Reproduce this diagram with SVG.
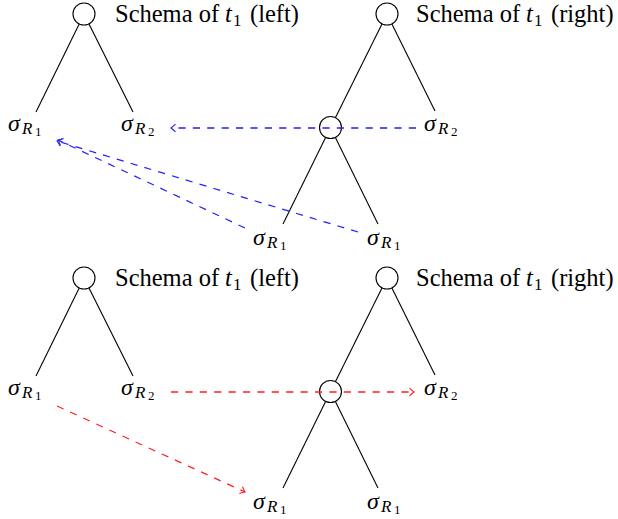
<svg xmlns="http://www.w3.org/2000/svg" width="618" height="519" viewBox="0 0 618 519">
<style>
text { font-family: "Liberation Serif", "Times New Roman", serif; fill: #000; }
.title { font-size: 24.5px; }
.it { font-style: italic; }
.lab { font-size: 24px; }
.s1 { font-size: 17px; }
.s2 { font-size: 13px; }
.node { fill: none; stroke: #000; stroke-width: 1.1; }
.edge { stroke: #000; stroke-width: 1.1; fill: none; }
.blue { stroke: #1f1fff; stroke-width: 1.2; fill: none; stroke-dasharray: 7.2 7.2; }
.red { stroke: #ff1f1f; stroke-width: 1.2; fill: none; stroke-dasharray: 7.2 7.2; }
.hz { stroke-width: 1.6; }
</style>
<defs>
<marker id="ab" viewBox="-6 -5 7 10" refX="0" refY="0" markerWidth="7" markerHeight="10" markerUnits="userSpaceOnUse" orient="auto" overflow="visible">
<path d="M-4.5,-3.8 Q-1.5,-1 0,0 Q-1.5,1 -4.5,3.8" fill="none" stroke="#1f1fff" stroke-width="1.1"/>
</marker>
<marker id="ar" viewBox="-6 -5 7 10" refX="0" refY="0" markerWidth="7" markerHeight="10" markerUnits="userSpaceOnUse" orient="auto" overflow="visible">
<path d="M-4.5,-3.8 Q-1.5,-1 0,0 Q-1.5,1 -4.5,3.8" fill="none" stroke="#ff1f1f" stroke-width="1.1"/>
</marker>
</defs>

<!-- ===== Top diagram ===== -->
<g id="title-top-left"><text class="title" y="22"><tspan x="115">Schema of</tspan><tspan x="225" class="it">t</tspan><tspan x="233" dy="4" class="s1">1</tspan><tspan x="250" dy="-4">(left)</tspan></text></g>
<g id="title-top-right"><text class="title" y="22"><tspan x="416">Schema of</tspan><tspan x="526" class="it">t</tspan><tspan x="534" dy="4" class="s1">1</tspan><tspan x="551" dy="-4">(right)</tspan></text></g>

<g id="t-tl-root"><circle class="node" cx="84" cy="14" r="11"/></g>
<g id="t-tl-r1"><text class="lab" y="131"><tspan x="8" class="it">σ</tspan><tspan x="22" dy="3" class="s1 it">R</tspan><tspan x="35" dy="2" class="s2">1</tspan></text></g>
<g id="t-tl-r2"><text class="lab" y="131"><tspan x="121" class="it">σ</tspan><tspan x="135" dy="3" class="s1 it">R</tspan><tspan x="148" dy="2" class="s2">2</tspan></text></g>

<g id="t-tr-root"><circle class="node" cx="387" cy="14" r="11"/></g>
<g id="t-tr-inner"><circle class="node" cx="330.5" cy="127.5" r="11"/></g>
<g id="t-tr-r2"><text class="lab" y="131"><tspan x="424" class="it">σ</tspan><tspan x="438" dy="3" class="s1 it">R</tspan><tspan x="451" dy="2" class="s2">2</tspan></text></g>
<g id="t-tr-r1a"><text class="lab" y="245"><tspan x="253" class="it">σ</tspan><tspan x="267" dy="3" class="s1 it">R</tspan><tspan x="280" dy="2" class="s2">1</tspan></text></g>
<g id="t-tr-r1b"><text class="lab" y="245"><tspan x="367" class="it">σ</tspan><tspan x="381" dy="3" class="s1 it">R</tspan><tspan x="394" dy="2" class="s2">1</tspan></text></g>

<!-- ===== Bottom diagram ===== -->
<g id="title-bot-left"><text class="title" y="286"><tspan x="115">Schema of</tspan><tspan x="225" class="it">t</tspan><tspan x="233" dy="4" class="s1">1</tspan><tspan x="250" dy="-4">(left)</tspan></text></g>
<g id="title-bot-right"><text class="title" y="286"><tspan x="416">Schema of</tspan><tspan x="526" class="it">t</tspan><tspan x="534" dy="4" class="s1">1</tspan><tspan x="551" dy="-4">(right)</tspan></text></g>

<g id="b-bl-root"><circle class="node" cx="84" cy="278" r="11"/></g>
<g id="b-bl-r1"><text class="lab" y="395"><tspan x="8" class="it">σ</tspan><tspan x="22" dy="3" class="s1 it">R</tspan><tspan x="35" dy="2" class="s2">1</tspan></text></g>
<g id="b-bl-r2"><text class="lab" y="395"><tspan x="121" class="it">σ</tspan><tspan x="135" dy="3" class="s1 it">R</tspan><tspan x="148" dy="2" class="s2">2</tspan></text></g>

<g id="b-br-root"><circle class="node" cx="387" cy="278" r="11"/></g>
<g id="b-br-inner"><circle class="node" cx="330.5" cy="391.5" r="11"/></g>
<g id="b-br-r2"><text class="lab" y="395"><tspan x="424" class="it">σ</tspan><tspan x="438" dy="3" class="s1 it">R</tspan><tspan x="451" dy="2" class="s2">2</tspan></text></g>
<g id="b-br-r1a"><text class="lab" y="509"><tspan x="253" class="it">σ</tspan><tspan x="267" dy="3" class="s1 it">R</tspan><tspan x="280" dy="2" class="s2">1</tspan></text></g>
<g id="b-br-r1b"><text class="lab" y="509"><tspan x="367" class="it">σ</tspan><tspan x="381" dy="3" class="s1 it">R</tspan><tspan x="394" dy="2" class="s2">1</tspan></text></g>

<g id="connectors">
<!-- top tree edges -->
<line class="edge" x1="79.2" y1="23.9" x2="36" y2="112"/>
<line class="edge" x1="88.9" y1="23.8" x2="133" y2="112"/>
<line class="edge" x1="382.1" y1="23.8" x2="335.4" y2="117.7"/>
<line class="edge" x1="391.9" y1="23.9" x2="435" y2="111"/>
<line class="edge" x1="325.6" y1="137.4" x2="283" y2="224"/>
<line class="edge" x1="335.4" y1="137.4" x2="378" y2="224"/>
<!-- bottom tree edges -->
<line class="edge" x1="79.2" y1="287.9" x2="36" y2="376"/>
<line class="edge" x1="88.9" y1="287.8" x2="133" y2="376"/>
<line class="edge" x1="382.1" y1="287.8" x2="335.4" y2="381.7"/>
<line class="edge" x1="391.9" y1="287.9" x2="435" y2="375"/>
<line class="edge" x1="325.6" y1="401.4" x2="283" y2="488"/>
<line class="edge" x1="335.4" y1="401.4" x2="378" y2="488"/>
<!-- blue mappings -->
<path class="blue hz" d="M416,128 L171,128" marker-end="url(#ab)"/>
<path class="blue" d="M358,232 L57,141" marker-end="url(#ab)"/>
<path class="blue" d="M245,228 L58,140" marker-end="url(#ab)"/>
<!-- red mappings -->
<path class="red hz" d="M171,392 L414,392" marker-end="url(#ar)"/>
<path class="red" d="M57,406 L245,492" marker-end="url(#ar)"/>
</g>
</svg>
